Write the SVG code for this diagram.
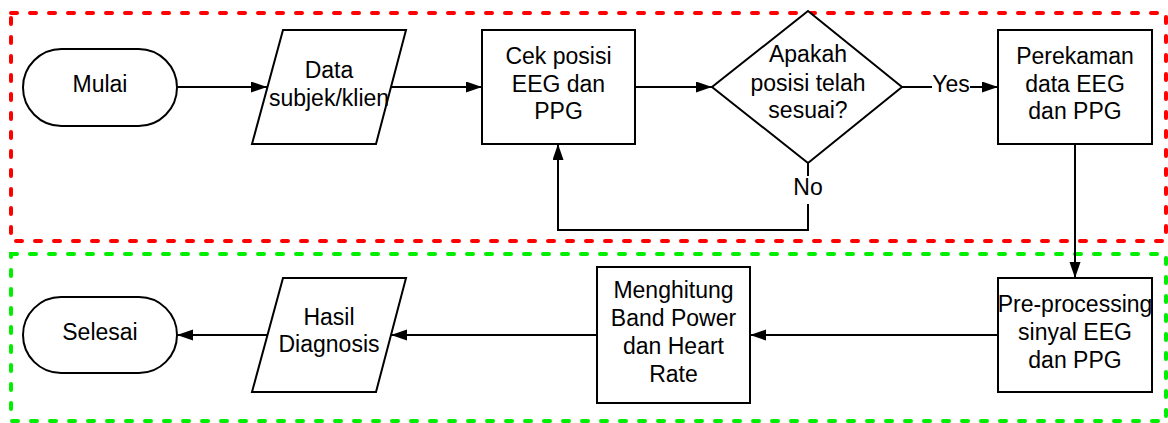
<svg xmlns="http://www.w3.org/2000/svg" width="1168" height="423" viewBox="0 0 1168 423">
<style>
.shape{fill:#fff;stroke:#000;stroke-width:2}
.conn{fill:none;stroke:#000;stroke-width:2}
.box{fill:none;stroke-width:4;stroke-dasharray:6 13;stroke-linecap:round}
text{font-family:"Liberation Sans",Arial,sans-serif;font-size:23px;fill:#000;text-anchor:middle}
</style>
<defs>
<marker id="arr" markerUnits="userSpaceOnUse" markerWidth="16" markerHeight="12" refX="16" refY="5.5" orient="auto">
<path d="M0,0 L16,5.5 L0,11 z" fill="#000"/>
</marker>
</defs>
<g id="containers">
<rect class="box" x="11" y="13" width="1155" height="228" stroke="#ff0000"/>
<rect class="box" x="11" y="254" width="1155" height="167" stroke="#00ee00"/>
</g>
<g id="connectors">
<path class="conn" d="M177,87 H267" marker-end="url(#arr)"/>
<path class="conn" d="M391,87 H482" marker-end="url(#arr)"/>
<path class="conn" d="M635,87 H712" marker-end="url(#arr)"/>
<path class="conn" d="M902,87 H932"/>
<path class="conn" d="M970,87 H998" marker-end="url(#arr)"/>
<text x="951" y="92">Yes</text>
<path class="conn" d="M808,163 V176"/>
<path class="conn" d="M808,204 V230 H558 V144" marker-end="url(#arr)"/>
<text x="808" y="195">No</text>
<path class="conn" d="M1075,144 V278" marker-end="url(#arr)"/>
<path class="conn" d="M998,335 H750" marker-end="url(#arr)"/>
<path class="conn" d="M597,335 H391" marker-end="url(#arr)"/>
<path class="conn" d="M267,335 H177" marker-end="url(#arr)"/>
</g>
<g id="mulai">
<rect class="shape" x="23" y="49" width="154" height="77" rx="38.5"/>
<text x="100" y="92">Mulai</text>
</g>
<g id="data">
<polygon class="shape" points="283,30 406,30 376,144 252,144"/>
<text x="329" y="78">Data</text>
<text x="329" y="106">subjek/klien</text>
</g>
<g id="cek">
<rect class="shape" x="482" y="30" width="153" height="114"/>
<text x="558.5" y="64">Cek posisi</text>
<text x="558.5" y="92">EEG dan</text>
<text x="558.5" y="119">PPG</text>
</g>
<g id="decision">
<polygon class="shape" points="808,11 902,87 808,163 712,87"/>
<text x="808" y="62">Apakah</text>
<text x="808" y="91">posisi telah</text>
<text x="808" y="118">sesuai?</text>
</g>
<g id="perekaman">
<rect class="shape" x="998" y="30" width="154" height="114"/>
<text x="1075" y="64">Perekaman</text>
<text x="1075" y="92">data EEG</text>
<text x="1075" y="119">dan PPG</text>
</g>
<g id="preprocessing">
<rect class="shape" x="998" y="278" width="154" height="114"/>
<text x="1075" y="312">Pre-processing</text>
<text x="1075" y="340">sinyal EEG</text>
<text x="1075" y="368">dan PPG</text>
</g>
<g id="menghitung">
<rect class="shape" x="597" y="267" width="153" height="136"/>
<text x="673.5" y="298">Menghitung</text>
<text x="673.5" y="326">Band Power</text>
<text x="673.5" y="354">dan Heart</text>
<text x="673.5" y="382">Rate</text>
</g>
<g id="hasil">
<polygon class="shape" points="283,278 406,278 376,392 252,392"/>
<text x="329" y="325">Hasil</text>
<text x="329" y="352">Diagnosis</text>
</g>
<g id="selesai">
<rect class="shape" x="23" y="297" width="154" height="76" rx="38"/>
<text x="100" y="340">Selesai</text>
</g>
</svg>
